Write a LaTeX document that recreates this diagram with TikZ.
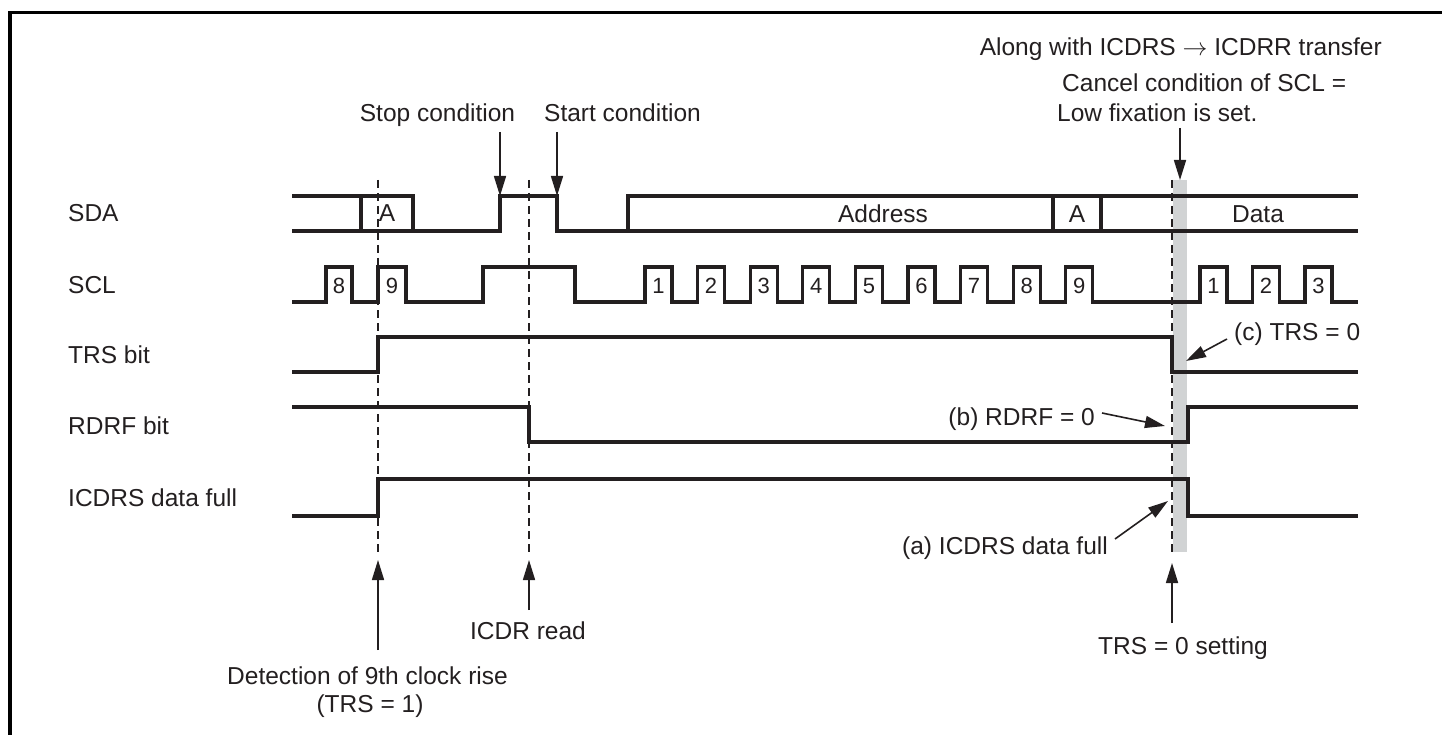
\documentclass[tikz,border=0pt]{standalone}
\usepackage{fontspec}
\setmainfont{Liberation Sans}
\usetikzlibrary{arrows.meta}
\definecolor{BandGrey}{HTML}{D1D3D4}
\definecolor{InkDark}{HTML}{231F20}

\begin{document}
\begin{tikzpicture}[
	x=1pt, y=-1pt, % pixel grid, y runs downwards
	% Style for the signal traces
	wave/.style={
		draw=InkDark,
		line width=3.2pt,
		line join=miter
	},
	% Style for the dashed timing markers
	marker/.style={
		draw=InkDark,
		line width=1.8pt,
		dash pattern=on 8pt off 5pt
	},
	% Style for the annotation arrows
	pointer/.style={
		draw=InkDark,
		line width=1.6pt,
		-{Triangle[length=20pt,width=12pt]}
	},
	% Style for the texts
	txt/.style={
		text=InkDark,
		inner sep=0pt,
		font=\fontsize{24.5}{29}\selectfont
	},
	% Style for the numbers inside the clock pulses
	digit/.style={
		txt,
		anchor=base,
		font=\fontsize{22}{26}\selectfont
	}
	]
	\useasboundingbox (0,0) rectangle (1442,735);
	
	% 0. Frame (left and top edges only)
	\draw[line width=3.5pt, line join=miter] (10,735) -- (10,12.7) -- (1442,12.7);
	
	% 1. Grey band where SCL is released
	\fill[BandGrey] (1173,180) rectangle (1187,552);
	
	% 2. Signal names
	\node[txt, anchor=base west] (sda)   at (68,222) {SDA};
	\node[txt, anchor=base west] (scl)   at (68,293) {SCL};
	\node[txt, anchor=base west] (trs)   at (68,363) {TRS bit};
	\node[txt, anchor=base west] (rdrf)  at (68,434) {RDRF bit};
	\node[txt, anchor=base west] (icdrs) at (68,506) {ICDRS data full};
	
	% 3. SDA bus
	\draw[wave] (292,196) -- (413,196) -- (413,231);
	\draw[wave] (292,231) -- (500,231) -- (500,196) -- (557,196) -- (557,231) -- (1358,231);
	\draw[wave] (361,196) -- (361,231);
	\draw[wave] (628,231) -- (628,196) -- (1358,196);
	\draw[wave] (1053,196) -- (1053,231);
	\draw[wave] (1101,196) -- (1101,231);
	
	\node[txt, anchor=base] (ack1) at (387,222) {A};
	\node[txt, anchor=base] (addr) at (883,223) {Address};
	\node[txt, anchor=base] (ack2) at (1077,223) {A};
	\node[txt, anchor=base] (data) at (1258,223) {Data};
	
	% 4. SCL clock
	\draw[wave] (292,302) -- (326,302) -- (326,267) -- (352,267) -- (352,302)
		-- (378,302) -- (378,267) -- (406,267) -- (406,302)
		-- (483,302) -- (483,267) -- (575,267) -- (575,302)
		foreach \i in {0,...,8} { -- (645+52.6*\i,302) -- ++(0,-35) -- ++(27,0) -- ++(0,35) }
		foreach \i in {0,...,2} { -- (1200+52.5*\i,302) -- ++(0,-35) -- ++(27,0) -- ++(0,35) }
		-- (1358,302);
	
	\node[digit] (c8) at (339,294) {8};
	\node[digit] (c9) at (392,294) {9};
	\foreach \n in {1,...,9}
		\node[digit] (addr\n) at (658.5+52.6*\n-52.6,294) {\n};
	\foreach \n in {1,...,3}
		\node[digit] (data\n) at (1213.5+52.5*\n-52.5,294) {\n};
	
	% 5. TRS, RDRF and ICDRS flags
	\draw[wave] (292,372) -- (378,372) -- (378,337) -- (1172,337) -- (1172,372) -- (1358,372);
	\draw[wave] (292,407) -- (529,407) -- (529,442) -- (1188,442) -- (1188,407) -- (1358,407);
	\draw[wave] (292,516) -- (378,516) -- (378,479) -- (1188,479) -- (1188,516) -- (1358,516);
	
	% 6. Dashed timing markers
	\draw[marker] (378,180) -- (378,555);
	\draw[marker] (529,180) -- (529,555);
	\draw[marker] (1172,180) -- (1172,555);
	
	% 7. Notes above the waveforms
	\node[txt, anchor=base] (stop) at (437.5,122) {Stop condition};
	\node[txt, anchor=base west] (start) at (544,122) {Start condition};
	\node[txt, anchor=base east] (along) at (1382,56) {Along with ICDRS $\rightarrow$ ICDRR transfer};
	\node[txt, anchor=base west] (cancel) at (1062,92) {Cancel condition of SCL =};
	\node[txt, anchor=base west] (lowfix) at (1057,122) {Low fixation is set.};
	
	\coordinate (stopFrom)   at (500,132);
	\coordinate (stopTo)     at (500,196);
	\coordinate (startFrom)  at (557,132);
	\coordinate (startTo)    at (557,196);
	\coordinate (cancelFrom) at (1180,128);
	\coordinate (cancelTo)   at (1180,180);
	\draw[pointer] (stopFrom) -- (stopTo);
	\draw[pointer] (startFrom) -- (startTo);
	\draw[pointer] (cancelFrom) -- (cancelTo);
	
	% 8. Notes (a), (b), (c) at the band
	\node[txt, anchor=base west] (noteC) at (1234,340) {(c) TRS = 0};
	\node[txt, anchor=base east] (noteB) at (1095,425) {(b) RDRF = 0};
	\node[txt, anchor=base east] (noteA) at (1108,554) {(a) ICDRS data full};
	
	\coordinate (cFrom) at (1227,339);
	\coordinate (cTo)   at (1186,361);
	\coordinate (bFrom) at (1102,413);
	\coordinate (bTo)   at (1165,426);
	\coordinate (aFrom) at (1115,539);
	\coordinate (aTo)   at (1168,501);
	\draw[pointer] (cFrom) -- (cTo);
	\draw[pointer] (bFrom) -- (bTo);
	\draw[pointer] (aFrom) -- (aTo);
	
	% 9. Events below the waveforms
	\node[txt, anchor=base] (detect) at (367.5,684) {Detection of 9th clock rise};
	\node[txt, anchor=base] (trsone) at (370,712) {(TRS = 1)};
	\node[txt, anchor=base] (read)   at (528,639) {ICDR read};
	\node[txt, anchor=base] (setting) at (1183,654) {TRS = 0 setting};
	
	\coordinate (detFrom)  at (378,650);
	\coordinate (detTo)    at (378,560);
	\coordinate (readFrom) at (529,610);
	\coordinate (readTo)   at (529,560);
	\coordinate (setFrom)  at (1172,623);
	\coordinate (setTo)    at (1172,563);
	\draw[pointer] (detFrom) -- (detTo);
	\draw[pointer] (readFrom) -- (readTo);
	\draw[pointer] (setFrom) -- (setTo);
	
\end{tikzpicture}
\end{document}
